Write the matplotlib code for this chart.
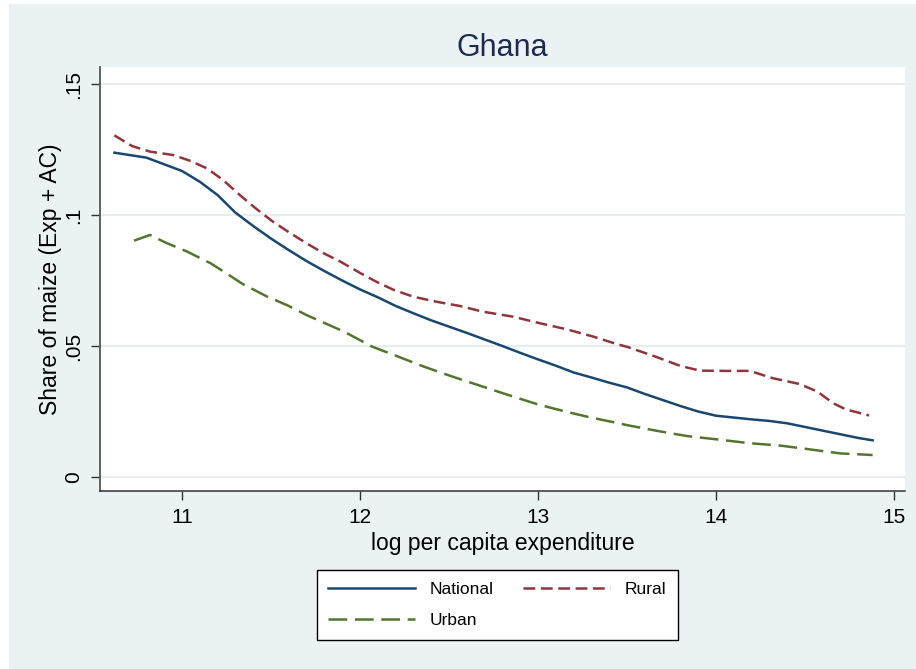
import matplotlib
matplotlib.use("Agg")
import matplotlib.pyplot as plt
from matplotlib.patches import Rectangle

# smoothed maize budget share by log per capita expenditure
nat_x = [10.62, 10.8, 11.0, 11.1, 11.2, 11.3, 11.4, 11.5, 11.6, 11.7, 11.8, 11.9,
         12.0, 12.1, 12.2, 12.3, 12.4, 12.5, 12.6, 12.7, 12.8, 12.9, 13.0, 13.1,
         13.2, 13.3, 13.4, 13.5, 13.6, 13.7, 13.8, 13.9, 14.0, 14.1, 14.2, 14.3,
         14.4, 14.5, 14.6, 14.7, 14.8, 14.88]
nat_y = [0.1238, 0.1219, 0.1168, 0.1127, 0.1076, 0.1009, 0.0958, 0.0910, 0.0866,
         0.0824, 0.0786, 0.0750, 0.0716, 0.0686, 0.0653, 0.0625, 0.0598, 0.0574,
         0.0550, 0.0525, 0.0500, 0.0474, 0.0449, 0.0425, 0.0399, 0.0380, 0.0360,
         0.0342, 0.0317, 0.0294, 0.0271, 0.0250, 0.0234, 0.0227, 0.0220, 0.0214,
         0.0205, 0.0191, 0.0177, 0.0163, 0.0149, 0.0140]

rur_x = [10.62, 10.72, 10.82, 10.95, 11.045, 11.14, 11.23, 11.33, 11.42, 11.51,
         11.61, 11.70, 11.79, 11.89, 12.0, 12.09, 12.19, 12.30, 12.43, 12.56,
         12.69, 12.86, 13.01, 13.16, 13.31, 13.44, 13.50, 13.65, 13.80, 13.91,
         14.06, 14.19, 14.32, 14.47, 14.57, 14.66, 14.73, 14.86]
rur_y = [0.1304, 0.1263, 0.1242, 0.1229, 0.1207, 0.1178, 0.1134, 0.1073, 0.1022,
         0.0975, 0.0930, 0.0892, 0.0856, 0.0822, 0.0779, 0.0746, 0.0714, 0.0688,
         0.0669, 0.0653, 0.0631, 0.0612, 0.0587, 0.0564, 0.0536, 0.0508, 0.0497,
         0.0462, 0.0424, 0.0406, 0.0405, 0.0405, 0.0377, 0.0355, 0.0326, 0.0281,
         0.0258, 0.0235]

urb_x = [10.73, 10.82, 10.91, 11.03, 11.16, 11.25, 11.34, 11.48, 11.59, 11.70,
         11.91, 12.07, 12.19, 12.36, 12.52, 12.69, 12.86, 13.01, 13.16, 13.29,
         13.44, 13.50, 13.67, 13.84, 14.00, 14.19, 14.36, 14.51, 14.70, 14.88]
urb_y = [0.0902, 0.0924, 0.0894, 0.0860, 0.0816, 0.0777, 0.0737, 0.0688, 0.0656,
         0.0618, 0.0555, 0.0497, 0.0466, 0.0421, 0.0383, 0.0345, 0.0307, 0.0275,
         0.0249, 0.0228, 0.0207, 0.0198, 0.0176, 0.0156, 0.0144, 0.0129, 0.0120,
         0.0107, 0.0090, 0.0084]

x_ticks = [11, 12, 13, 14, 15]
y_ticks = [0, 0.05, 0.1, 0.15]
y_ticklabels = ["0", ".05", ".1", ".15"]

plt.rcParams['font.family'] = ['Liberation Sans', 'DejaVu Sans']
plt.rcParams['lines.scale_dashes'] = False

W, H = 916, 669
fig = plt.figure(figsize=(W / 100, H / 100), dpi=100, facecolor='white')
bg = Rectangle((9 / W, 0), 1 - 9 / W, 1 - 4 / H, transform=fig.transFigure,
               facecolor='#eaf2f3', edgecolor='none', zorder=-10)
fig.add_artist(bg)

ax = fig.add_axes([100 / W, (H - 491) / H, 805 / W, 424 / H])
ax.set_zorder(1)
ax.set_facecolor('white')

ax.plot(nat_x, nat_y, color='#1a476f', lw=1.8, label='National')
ax.plot(urb_x, urb_y, color='#55752f', lw=1.8, dashes=(13.5, 5.5), label='Urban')
ax.plot(rur_x, rur_y, color='#90353b', lw=1.8, dashes=(8.5, 4.0), label='Rural')

ax.set_xlim(10.539, 15.062)
ax.set_ylim(-0.00534, 0.1565)
ax.set_xticks(x_ticks)
ax.set_yticks(y_ticks)
ax.set_yticklabels(y_ticklabels, rotation=90, va='center')
for v in y_ticks:
    ax.axhline(v, color='#e6eef0', lw=1.6, zorder=0)

for s in ['top', 'right']:
    ax.spines[s].set_visible(False)
ax.spines['left'].set_color('#555555')
ax.spines['bottom'].set_color('#333333')
ax.spines['left'].set_linewidth(1.3)
ax.spines['bottom'].set_linewidth(1.1)
ax.tick_params(axis='both', length=6.5, width=1.0, labelsize=15, color='#333333', pad=6)

ax.set_title('Ghana', fontsize=22, color='#1e2b50', pad=8)
ax.set_xlabel('log per capita expenditure', fontsize=16.5, labelpad=3)
ax.set_ylabel('Share of maize (Exp + AC)', fontsize=16.5, labelpad=1.5)

leg = fig.legend(loc='center', bbox_to_anchor=(497.5 / W, (H - 605) / H), ncol=2,
                 fontsize=12.5, frameon=True, fancybox=False, framealpha=1,
                 edgecolor='black', handlelength=5.0, handletextpad=0.85,
                 columnspacing=1.7, labelspacing=0.95, borderpad=0.65)
leg.get_frame().set_linewidth(1.0)
leg.set_zorder(2)

fig.savefig('out.png', dpi=100, facecolor=fig.get_facecolor())
